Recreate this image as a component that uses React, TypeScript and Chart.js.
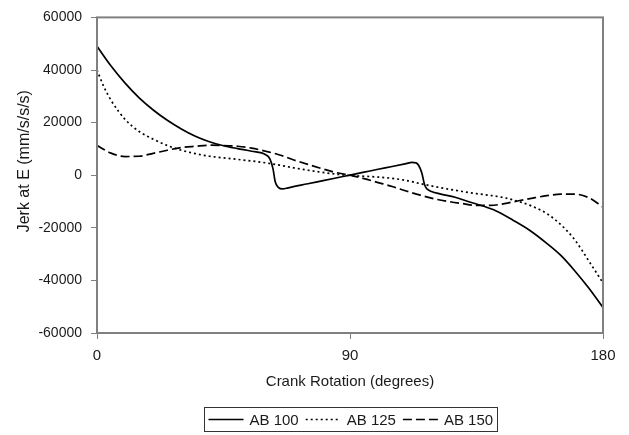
import React, { useEffect, useRef } from "react";
import { Chart, registerables } from "chart.js";

Chart.register(...registerables);

// ---- Data ----
const AB100_ANGLES = [0, 5, 10, 15, 20, 25, 30, 35, 40, 45, 50, 55, 60, 61.5, 62.6, 63.4, 64.5, 66, 68, 75, 80, 85, 90, 95, 100, 105, 110, 112, 113.5, 114.4, 115.5, 116.6, 117.6, 119, 122, 127.4, 132, 137, 142, 148, 154, 160, 165, 170, 175, 180];
const AB100_VALUES = [49000, 41500, 35000, 29400, 24800, 20900, 17600, 14800, 12700, 11200, 10100, 9100, 7800, 6200, 2500, -2500, -4600, -5200, -4800, -3250, -2150, -1050, 50, 1150, 2250, 3300, 4400, 4850, 4700, 3800, 1000, -3800, -5400, -6200, -7100, -8400, -10000, -11600, -13600, -17100, -21000, -25900, -30500, -36400, -43000, -50300];

const AB125_ANGLES = [0, 2.5, 5, 7.5, 10, 15, 20, 25, 30, 35, 40, 45, 50, 55, 60, 65, 70, 75, 80, 85, 90, 95, 100, 105, 110, 115, 120, 125, 130, 135, 140, 145, 150, 155, 160, 165, 170, 172.5, 175, 177.5, 180];
const AB125_VALUES = [40000, 33500, 28500, 24500, 21200, 16600, 13700, 11300, 9500, 8200, 7200, 6600, 6000, 5400, 4700, 3800, 2800, 1900, 1100, 400, -100, -400, -700, -1200, -2000, -3200, -4300, -5300, -6200, -7000, -7700, -8600, -10000, -11900, -14600, -18800, -24600, -28500, -32700, -36800, -41000];

const AB150_ANGLES = [0, 5, 10, 15, 20, 25, 30, 35, 40, 45, 50, 55, 60, 65, 70, 75, 80, 85, 90, 95, 100, 105, 110, 115, 120, 125, 130, 135, 140, 145, 150, 155, 160, 165, 170, 175, 180];
const AB150_VALUES = [11300, 8400, 7100, 7200, 8300, 9500, 10500, 11000, 11400, 11300, 11000, 10300, 9100, 7700, 5800, 4100, 2500, 1000, 0, -1300, -2800, -4300, -6000, -7600, -9000, -10000, -10800, -11500, -11500, -10800, -9700, -8700, -7800, -7200, -7200, -8600, -12100];

const SERIES_LABELS = ["AB 100", "AB 125", "AB 150"];
const X_TITLE = "Crank Rotation (degrees)";
const Y_TITLE = "Jerk at E (mm/s/s/s)";
const X_MIN = 0, X_MAX = 180, X_STEP = 90;
const Y_MIN = -60000, Y_MAX = 60000, Y_STEP = 20000;

const FONT = "'Liberation Sans', Arial, Helvetica, sans-serif";
const TEXT = "#1a1a1a";
const AXIS = "#808080";

const toPoints = (xs: number[], ys: number[]) => xs.map((x, i) => ({ x, y: ys[i] }));

const framePlugin = {
  id: "frameAndLegend",
  afterDraw(chart: any) {
    const { ctx, chartArea: ca } = chart;
    ctx.save();
    // plot frame
    ctx.strokeStyle = AXIS;
    ctx.lineWidth = 2;
    ctx.setLineDash([]);
    ctx.strokeRect(ca.left, ca.top, ca.right - ca.left, ca.bottom - ca.top);

    // y title
    ctx.fillStyle = TEXT;
    ctx.font = `16px ${FONT}`;
    ctx.textAlign = "center";
    ctx.textBaseline = "middle";
    ctx.save();
    ctx.translate(25, (ca.top + ca.bottom) / 2 - 14);
    ctx.rotate(-Math.PI / 2);
    ctx.fillText(Y_TITLE, 0, 0);
    ctx.restore();

    // legend
    ctx.font = `15px ${FONT}`;
    const lineLen = 35, gapLT = 6, gapItem = 7, padX = 4, boxH = 24;
    const items = chart.data.datasets.map((ds: any) => ({
      label: ds.label,
      dash: ds.borderDash || [],
      w: ctx.measureText(ds.label).width,
    }));
    const total = padX * 2 + items.reduce((s: number, it: any) => s + lineLen + gapLT + it.w, 0) + gapItem * (items.length - 1);
    const cx = (ca.left + ca.right) / 2;
    const top = chart.height - 28.5;
    const left = Math.round(cx - total / 2) + 0.5;
    ctx.strokeStyle = "#333";
    ctx.lineWidth = 1;
    ctx.strokeRect(left, Math.round(top) + 0.5, Math.round(total), boxH);
    const cy = Math.round(top) + boxH / 2 + 0.5;
    let x = left + padX;
    ctx.textAlign = "left";
    ctx.textBaseline = "middle";
    items.forEach((it: any) => {
      ctx.beginPath();
      ctx.setLineDash(it.dash);
      ctx.strokeStyle = "#000";
      ctx.lineWidth = 1.5;
      ctx.moveTo(x, cy);
      ctx.lineTo(x + lineLen, cy);
      ctx.stroke();
      ctx.setLineDash([]);
      x += lineLen + gapLT;
      ctx.fillStyle = TEXT;
      ctx.fillText(it.label, x, cy + 1);
      x += it.w + gapItem;
    });
    ctx.restore();
  },
};

export default function App() {
  const ref = useRef<HTMLCanvasElement | null>(null);

  useEffect(() => {
    if (!ref.current) return;
    const common = {
      borderColor: "#000",
      borderWidth: 1.7,
      pointRadius: 0,
      fill: false,
      cubicInterpolationMode: "monotone" as const,
    };
    const chart = new Chart(ref.current, {
      type: "line",
      data: {
        datasets: [
          { ...common, label: SERIES_LABELS[0], data: toPoints(AB100_ANGLES, AB100_VALUES), borderDash: [] },
          { ...common, label: SERIES_LABELS[1], data: toPoints(AB125_ANGLES, AB125_VALUES), borderDash: [2, 3] },
          { ...common, label: SERIES_LABELS[2], data: toPoints(AB150_ANGLES, AB150_VALUES), borderDash: [9, 4] },
        ],
      },
      options: {
        animation: false,
        responsive: false,
        devicePixelRatio: 1,
        layout: { padding: { left: 0, right: 26, top: 13, bottom: 42 } },
        plugins: { legend: { display: false }, tooltip: { enabled: false } },
        scales: {
          x: {
            type: "linear",
            min: X_MIN,
            max: X_MAX,
            afterFit: (s: any) => { s.height = 60; },
            afterBuildTicks: (s: any) => {
              const t = [];
              for (let v = X_MIN; v <= X_MAX; v += X_STEP) t.push({ value: v });
              s.ticks = t;
            },
            grid: { drawOnChartArea: false, drawTicks: true, tickLength: 6, color: AXIS, lineWidth: 1 },
            border: { display: false },
            ticks: { color: TEXT, font: { family: FONT, size: 15 }, padding: 8, maxRotation: 0, callback: (v: any) => String(v) },
            title: { display: true, text: X_TITLE, color: TEXT, font: { family: FONT, size: 15 }, padding: { top: 0, bottom: 2 } },
          },
          y: {
            type: "linear",
            min: Y_MIN,
            max: Y_MAX,
            afterFit: (s: any) => { s.width = 97; },
            ticks: { stepSize: Y_STEP, color: TEXT, font: { family: FONT, size: 14 }, padding: 9, callback: (v: any) => String(v) },
            grid: { drawOnChartArea: false, drawTicks: true, tickLength: 6, color: AXIS, lineWidth: 1 },
            border: { display: false },
          },
        },
      },
      plugins: [framePlugin],
    });
    return () => chart.destroy();
  }, []);

  return (
    <div style={{ position: "fixed", left: 0, top: 0, width: 629, height: 435, background: "#fff" }}>
      <canvas ref={ref} width={629} height={435} style={{ display: "block" }} />
    </div>
  );
}
